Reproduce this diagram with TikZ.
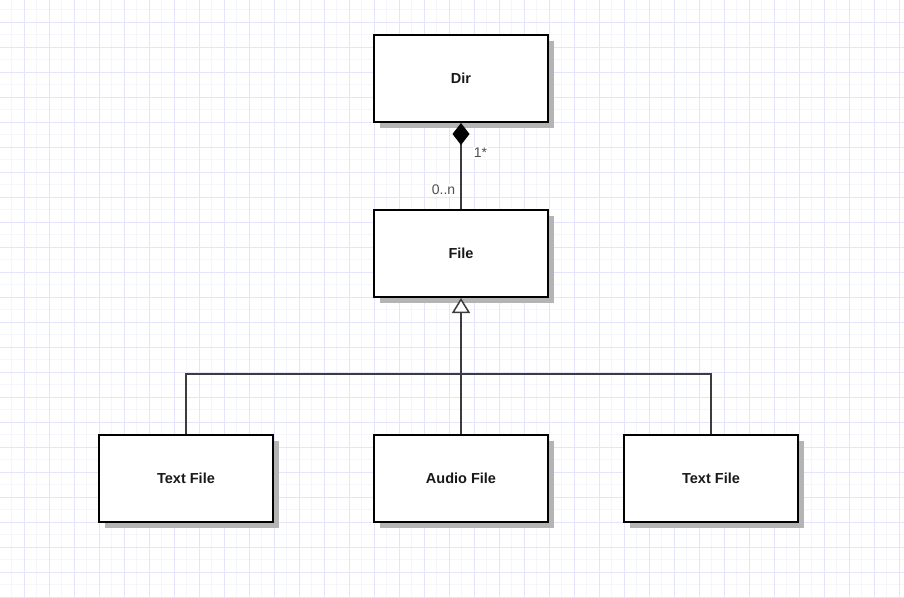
\documentclass[tikz,border=0pt]{standalone}
\usepackage{fontspec}
\setmainfont{Liberation Sans}
\usetikzlibrary{arrows.meta,shadows}
\definecolor{gmaj}{RGB}{228,228,253}
\definecolor{gmin}{RGB}{245,245,252}
\definecolor{shd}{RGB}{180,180,180}
\definecolor{ln}{RGB}{60,60,60}
\definecolor{lbl}{RGB}{80,80,80}
\begin{document}
\begin{tikzpicture}[x=1pt,y=-1pt,
  cls/.style={draw=black,line width=2pt,fill=white,minimum width=174pt,minimum height=87pt,
    inner sep=0pt,font=\fontsize{14.5}{16}\selectfont\bfseries,text=black!90,
    drop shadow={shadow xshift=6pt,shadow yshift=-6pt,fill=shd,opacity=1}},
  conn/.style={draw=ln,line width=1.5pt},
  mult/.style={font=\fontsize{14}{16}\selectfont,text=lbl,fill=white,inner sep=1pt}]
\useasboundingbox (0,0) rectangle (904,597);
\fill[white] (0,0) rectangle (904,597);
\foreach \x in {11.5,36.5,...,904} \draw[gmin,line width=1pt] (\x,0) -- (\x,597);
\foreach \y in {9.5,34.5,...,597} \draw[gmin,line width=1pt] (0,\y) -- (904,\y);
\foreach \x in {24,49,...,904} \draw[gmaj,line width=1pt] (\x,0) -- (\x,597);
\foreach \y in {22,47,...,597} \draw[gmaj,line width=1pt] (0,\y) -- (904,\y);

\node[cls] (dir) at (461,78.5) {Dir};
\node[cls] (file) at (461,253.5) {File};
\node[cls] (t1) at (186,478.5) {Text File};
\node[cls] (audio) at (461,478.5) {Audio File};
\node[cls] (t2) at (711,478.5) {Text File};

\coordinate (bus) at (461,374);

\draw[conn,{Diamond[length=22pt,width=17pt,fill=black,line width=0pt]}-] (dir.south) -- (file.north);
\node[mult] (m1) at (480.5,153) {1*};
\node[mult] (m2) at (443.5,190) {0..n};

\draw[conn] (t1.north) |- (bus) -| (t2.north);
\draw[conn,-{Triangle[length=15pt,width=18pt,fill=white]}] (audio.north) -- (file.south);
\end{tikzpicture}
\end{document}
